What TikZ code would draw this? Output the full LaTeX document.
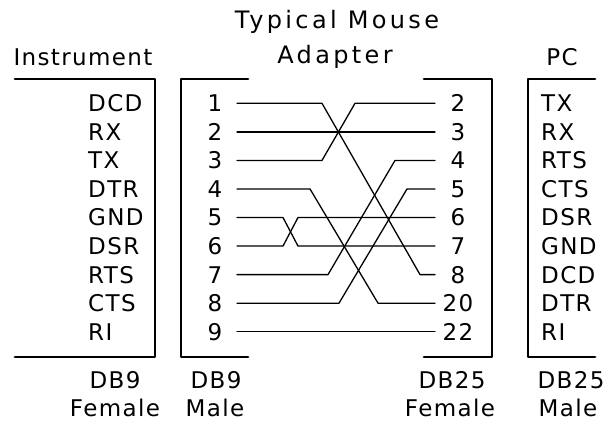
\documentclass[tikz,border=0pt]{standalone}
\usepackage{fontspec}
\setmainfont{DejaVu Sans}
\newfontfamily\lblfont{DejaVu Sans}[LetterSpace=6]
\newfontfamily\ttlfont{DejaVu Sans}[LetterSpace=14]
\begin{document}
\begin{tikzpicture}[x=1pt, y=-1pt, line join=round, line cap=round]
	\tikzset{every node/.style={inner sep=0pt, text height=16.8pt, text depth=0pt, font=\lblfont\fontsize{23}{27}\selectfont},
		box/.style={line width=2.7pt},
		wire/.style={line width=1.3pt},
		ttl/.style={font=\ttlfont\fontsize{24}{28}\selectfont, text height=17.5pt}}
	\useasboundingbox (0,0) rectangle (607,423);
	\def\ytop{103.3}\def\dy{28.55}
	% headings
	\node[ttl] (title1) at (337,20) {Typical Mouse};
	\node[ttl] (title2) at (335,55) {Adapter};
	\node (inst) at (83,57) {Instrument};
	\node (pc) at (562,57) {PC};
	% connector shells
	\draw[box] (15,79)--(155,79)--(155,357)--(15,357);
	\draw[box] (248,79)--(181,79)--(181,357)--(248,357);
	\draw[box] (424,79)--(492,79)--(492,357)--(424,357);
	\draw[box] (595,79)--(528,79)--(528,357)--(595,357);
	% signals and pins
	\foreach \s [count=\i] in {DCD,RX,TX,DTR,GND,DSR,RTS,CTS,RI}\node[anchor=west] (insig\i) at (88,{\ytop+(\i-1)*\dy}) {\s};
	\foreach \s [count=\i] in {TX,RX,RTS,CTS,DSR,GND,DCD,DTR,RI}\node[anchor=west] (pcsig\i) at (541,{\ytop+(\i-1)*\dy}) {\s};
	\foreach \i in {1,...,9}{\node (l\i) at (215,{\ytop+(\i-1)*\dy}) {\i};
		\coordinate (a\i) at (237,{\ytop+(\i-1)*\dy});}
	\foreach \p [count=\i] in {2,3,4,5,6,7,8,20,22}{\node (r\i) at (458,{\ytop+(\i-1)*\dy}) {\p};
		\coordinate (b\i) at (435,{\ytop+(\i-1)*\dy});}
	% wiring
	\draw[wire] (a2)--(b2);
	\draw[wire] (a9)--(b9);
	\foreach \f/\t/\u/\v in {1/7/85/15, 3/1/85/80, 4/8/73/57, 5/6/46/137, 6/5/46/137, 7/3/91/40, 8/4/102/28}
		\draw[wire] (a\f)--([xshift=\u pt]a\f)--([xshift=-\v pt]b\t)--(b\t);
	% connector types
	\foreach \x/\y/\t [count=\i] in {115/380/DB9, 115/408/Female, 216/380/DB9, 215/408/Male, 452/380/DB25, 450/408/Female, 571/380/DB25, 568/408/Male}
		\node (foot\i) at (\x,\y) {\t};
\end{tikzpicture}
\end{document}
